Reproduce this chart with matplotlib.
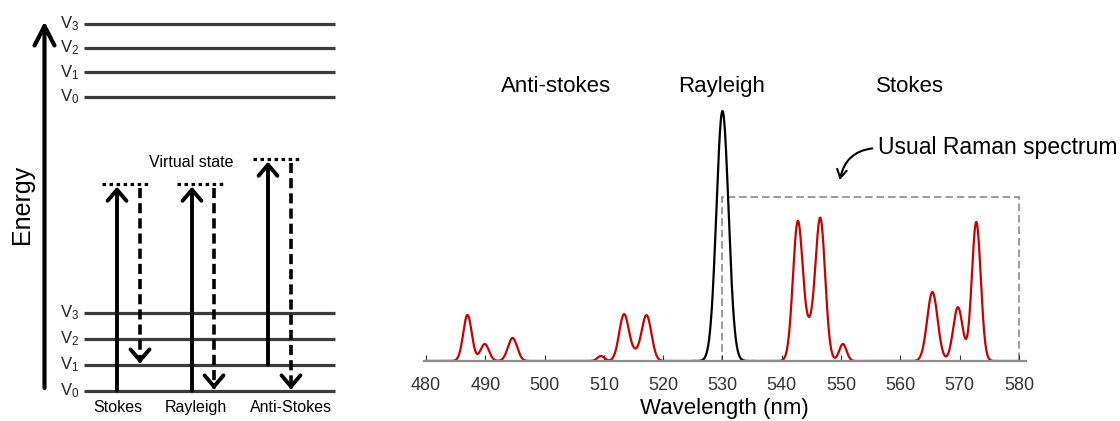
import numpy as np
import matplotlib
matplotlib.use("Agg")
import matplotlib.pyplot as plt
from matplotlib.patches import Rectangle

plt.rcParams['font.family'] = ['Liberation Sans', 'DejaVu Sans']
plt.rcParams['mathtext.fontset'] = 'custom'
plt.rcParams['mathtext.rm'] = 'Liberation Sans'
plt.rcParams['mathtext.it'] = 'Liberation Sans'

# ---- energy diagram (left) ----
level_names = ['V$_0$', 'V$_1$', 'V$_2$', 'V$_3$']
lower_levels = [30.3, 56.3, 82.0, 108.3]
upper_levels = [324.3, 348.7, 373.0, 397.0]
process_names = ['Stokes', 'Rayleigh', 'Anti-Stokes']
process_label_x = [118, 196, 291]
up_x = [117, 192, 268]
down_x = [140, 214, 291]
virtual_y = [236.7, 236.7, 261.7]
start_level = [0, 0, 1]
end_level = [1, 0, 0]

# ---- spectrum (right) ----
peak_center = [487.0, 489.9, 494.6, 509.5, 513.4, 515.3, 517.2,
               542.7, 544.6, 546.5, 550.3, 565.4, 569.7, 572.8]
peak_height = [0.184, 0.068, 0.092, 0.02, 0.186, 0.025, 0.182,
               0.552, 0.10, 0.565, 0.068, 0.276, 0.215, 0.556]
peak_width = [0.72, 0.72, 0.78, 0.6, 0.82, 0.8, 0.82,
              0.82, 0.85, 0.82, 0.62, 0.88, 0.8, 0.75]
rayleigh_center = 530.0
rayleigh_height = 1.0
rayleigh_width = 1.02
box_range = [530, 580]
box_top = 0.657

wl = np.linspace(480, 580, 3001)
raman = np.zeros_like(wl)
for c, h, s in zip(peak_center, peak_height, peak_width):
    raman += h * np.exp(-(wl - c) ** 2 / (2 * s ** 2))
spec = raman + rayleigh_height * np.exp(-(wl - rayleigh_center) ** 2 / (2 * rayleigh_width ** 2))

fig = plt.figure(figsize=(11.2, 4.21), dpi=100)

ax0 = fig.add_axes([0, 0, 350 / 1120, 1])
ax0.set_xlim(0, 350)
ax0.set_ylim(0, 421)
ax0.axis('off')

lvl_color = '#3c3c3c'
for levels in (lower_levels, upper_levels):
    for name, y in zip(level_names, levels):
        ax0.plot([84, 335], [y, y], color=lvl_color, lw=2.3, solid_capstyle='butt')
        ax0.text(79, y, name, ha='right', va='center', fontsize=12, color='#222222')

# energy axis arrow
ax0.annotate('', xy=(44.5, 399.5), xytext=(44.5, 33),
             arrowprops=dict(arrowstyle='->,head_length=1.4,head_width=0.72',
                             lw=3.0, color='black', shrinkA=0, shrinkB=0, mutation_scale=10))
ax0.text(22, 217, 'Energy', rotation=90, ha='center', va='center', fontsize=18)

for i in range(3):
    vy = virtual_y[i]
    # virtual state
    ax0.plot([up_x[i] - 15.5, up_x[i] + 33], [vy, vy], color='black', lw=2.3,
             linestyle=(0, (1.1, 1.1)), solid_capstyle='butt', dash_capstyle='butt')
    # excitation
    y0 = lower_levels[start_level[i]]
    ax0.annotate('', xy=(up_x[i], vy - 2.4), xytext=(up_x[i], y0),
                 arrowprops=dict(arrowstyle='->,head_length=0.8,head_width=0.68',
                                 lw=2.8, color='black', shrinkA=0, shrinkB=0, mutation_scale=10))
    # emission
    y1 = lower_levels[end_level[i]] + 1.2
    ax0.plot([down_x[i], down_x[i]], [vy - 4, y1 + 6], color='black', lw=2.6,
             dashes=(2.8, 1.4), solid_capstyle='butt', dash_capstyle='butt')
    ax0.annotate('', xy=(down_x[i], y1), xytext=(down_x[i], y1 + 4),
                 arrowprops=dict(arrowstyle='->,head_length=0.8,head_width=0.68',
                                 lw=2.8, color='black', shrinkA=0, shrinkB=0, mutation_scale=10))
    ax0.text(process_label_x[i], 13.5, process_names[i], ha='center', va='center', fontsize=11.5)

ax0.text(191.7, 258.7, 'Virtual state', ha='center', va='center', fontsize=11.5)

# ---- spectrum ----
ax = fig.add_axes([423.6 / 1120, 60 / 421, (1026.1 - 423.6) / 1120, 300 / 421])
ax.set_xlim(479.6, 581.2)
ax.set_ylim(0, 1.2)

red = '#c80000'
m_left = wl <= 525.2
m_mid = (wl >= 525) & (wl <= 535.2)
m_right = wl >= 535
ax.plot(wl[m_left], spec[m_left], color=red, lw=1.6)
ax.plot(wl[m_mid], spec[m_mid], color='black', lw=1.6)
ax.plot(wl[m_right], spec[m_right], color=red, lw=1.6)

ax.add_patch(Rectangle((box_range[0], 0), box_range[1] - box_range[0], box_top,
                       fill=False, edgecolor='#808080', lw=1.1, linestyle=(0, (5, 2.5))))

for sp in ['top', 'left', 'right']:
    ax.spines[sp].set_visible(False)
ax.spines['bottom'].set_color('#8c8c8c')
ax.spines['bottom'].set_linewidth(1.6)
ax.set_yticks([])
ax.set_xticks(np.arange(480, 581, 10))
ax.tick_params(axis='x', direction='in', length=4, width=0.8, color='#333333',
               labelsize=13, labelcolor='#333333', pad=11.5)
ax.set_xlabel('Wavelength (nm)', fontsize=16, labelpad=3)

ax.text(501.9, 1.097, 'Anti-stokes', ha='center', va='center', fontsize=16)
ax.text(529.9, 1.097, 'Rayleigh', ha='center', va='center', fontsize=16)
ax.text(561.7, 1.097, 'Stokes', ha='center', va='center', fontsize=16)

ax.annotate('Usual Raman spectrum', xy=(549.8, 0.724), xytext=(556.2, 0.852),
            ha='left', va='center', fontsize=16.5,
            arrowprops=dict(arrowstyle='->,head_length=0.6,head_width=0.35', lw=1.5,
                            color='black', connectionstyle='arc3,rad=0.4',
                            relpos=(0, 0.5), shrinkA=2, shrinkB=0, mutation_scale=10))

plt.savefig('out.png', dpi=100)
